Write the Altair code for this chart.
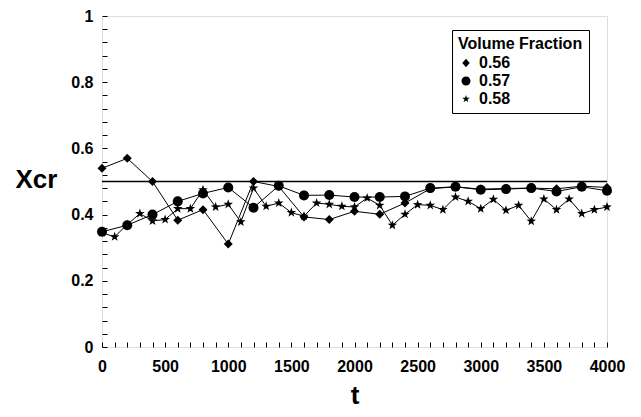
import altair as alt
import pandas as pd

series = ["0.56", "0.57", "0.58"]

t_200 = [0, 200, 400, 600, 800, 1000, 1200, 1400, 1600, 1800, 2000,
         2200, 2400, 2600, 2800, 3000, 3200, 3400, 3600, 3800, 4000]
t_100 = [0, 100, 200, 300, 400, 500, 600, 700, 800, 900, 1000,
         1100, 1200, 1300, 1400, 1500, 1600, 1700, 1800, 1900, 2000,
         2100, 2200, 2300, 2400, 2500, 2600, 2700, 2800, 2900, 3000,
         3100, 3200, 3300, 3400, 3500, 3600, 3700, 3800, 3900, 4000]

x_056 = [0.540, 0.570, 0.500, 0.383, 0.415, 0.311, 0.500, 0.485, 0.393, 0.385, 0.410,
         0.401, 0.435, 0.478, 0.484, 0.477, 0.479, 0.480, 0.478, 0.486, 0.482]
x_057 = [0.348, 0.368, 0.400, 0.440, 0.464, 0.482, 0.421, 0.487, 0.458, 0.459, 0.453,
         0.453, 0.455, 0.480, 0.484, 0.475, 0.477, 0.480, 0.470, 0.484, 0.472]
x_058 = [0.345, 0.333, 0.370, 0.403, 0.381, 0.385, 0.418, 0.418, 0.475, 0.423, 0.431,
         0.378, 0.480, 0.425, 0.435, 0.406, 0.395, 0.435, 0.431, 0.425, 0.423,
         0.450, 0.428, 0.368, 0.401, 0.430, 0.428, 0.415, 0.453, 0.440, 0.418,
         0.446, 0.413, 0.428, 0.380, 0.447, 0.415, 0.447, 0.403, 0.415, 0.423]

x_labels = [0, 500, 1000, 1500, 2000, 2500, 3000, 3500, 4000]
y_labels = [0, 0.2, 0.4, 0.6, 0.8, 1]
x_minor = t_100
y_minor = [0, 0.04, 0.08, 0.12, 0.16, 0.2, 0.24, 0.28, 0.32, 0.36, 0.4, 0.44, 0.48,
           0.52, 0.56, 0.6, 0.64, 0.68, 0.72, 0.76, 0.8, 0.84, 0.88, 0.92, 0.96, 1]
ref_level = [0.5]

rows = []
for tt, v in zip(t_200, x_056):
    rows.append({"t": tt, "v": v, "series": "0.56"})
for tt, v in zip(t_200, x_057):
    rows.append({"t": tt, "v": v, "series": "0.57"})
for tt, v in zip(t_100, x_058):
    rows.append({"t": tt, "v": v, "series": "0.58"})
df = pd.DataFrame(rows)
df["legend_key"] = df["series"]
ref_df = pd.DataFrame({"v": ref_level})

FONT = "Liberation Sans"
xscale = alt.Scale(domain=[0, 4000], nice=False, zero=False)
yscale = alt.Scale(domain=[0, 1], nice=False, zero=False)

diamond = "M0,-0.9L0.9,0L0,0.9L-0.9,0Z"
star = ("M0,-1L0.235,-0.324L0.951,-0.309L0.380,0.124L0.588,0.809L0,0.4"
        "L-0.588,0.809L-0.380,0.124L-0.951,-0.309L-0.235,-0.324Z")
leg_diamond = "M-4,0L4,0M0,-0.85L0.75,0L0,0.85L-0.75,0Z"
leg_circle = "M-4,0L4,0M0.9,0A0.9,0.9,0,1,1,-0.9,0A0.9,0.9,0,1,1,0.9,0Z"
leg_star = ("M-4,0L4,0M0,-0.8L0.19,-0.26L0.76,-0.25L0.30,0.10L0.47,0.65L0,0.32"
            "L-0.47,0.65L-0.30,0.10L-0.76,-0.25L-0.19,-0.26Z")

refline = alt.Chart(ref_df).mark_rule(color="black", strokeWidth=1.5).encode(
    y=alt.Y("v:Q", scale=yscale, axis=None)
)

lines = alt.Chart(df).mark_line(color="black", strokeWidth=1).encode(
    x=alt.X("t:Q", scale=xscale, axis=alt.Axis(
        orient="bottom", values=x_labels, format="d", ticks=False, domain=False, grid=False,
        labelPadding=11, labelFlush=False, labelOverlap=False,
        labelFont=FONT, labelFontSize=16, labelFontWeight="bold", labelColor="black",
        title="t", titleFont=FONT, titleFontSize=26, titleFontWeight="bold", titleColor="black",
        titleBaseline="alphabetic", titleY=56)),
    y=alt.Y("v:Q", scale=yscale, axis=alt.Axis(
        orient="left", values=y_labels, format="~g", ticks=False, domain=False, grid=False,
        labelPadding=9, labelFlush=False, labelOverlap=False,
        labelFont=FONT, labelFontSize=16, labelFontWeight="bold", labelColor="black",
        title="Xcr", titleFont=FONT, titleFontSize=26, titleFontWeight="bold", titleColor="black",
        titleAngle=0, titleAlign="left", titleBaseline="middle", titleX=-87, titleY=163)),
    detail="series:N",
)

legend_layer = alt.Chart(df).mark_point(
    filled=False, opacity=0, fill="black", color="black", stroke="black", strokeWidth=1
).encode(
    x=alt.X("t:Q", scale=xscale, axis=None),
    y=alt.Y("v:Q", scale=yscale, axis=None),
    shape=alt.Shape("legend_key:N",
                    scale=alt.Scale(domain=series, range=[leg_diamond, leg_circle, leg_star]),
                    legend=alt.Legend(
                        title="Volume Fraction", orient="none", legendX=350, legendY=14,
                        direction="vertical",
                        titleFont=FONT, titleFontSize=16, titleFontWeight="bold", titleColor="black",
                        labelFont=FONT, labelFontSize=16, labelFontWeight="bold", labelColor="black",
                        symbolSize=100, symbolOpacity=1, symbolFillColor="black",
                        symbolStrokeColor="black", symbolStrokeWidth=1,
                        symbolOffset=0, labelOffset=5,
                        strokeColor="black", fillColor="white", padding=6, rowPadding=2,
                        titlePadding=3)),
)

points = alt.Chart(df).mark_point(filled=True, size=100, opacity=1, color="black").encode(
    x=alt.X("t:Q", scale=xscale, axis=None),
    y=alt.Y("v:Q", scale=yscale, axis=None),
    shape=alt.Shape("series:N", scale=alt.Scale(domain=series, range=[diamond, "circle", star]),
                    legend=None),
)

ticks = alt.Chart(df).mark_point(opacity=0).encode(
    x=alt.X("t:Q", scale=xscale, axis=alt.Axis(
        orient="bottom", values=x_minor, labels=False, domain=False, grid=False,
        ticks=True, tickSize=5, tickColor="black", tickWidth=1, offset=-5, title=None)),
    y=alt.Y("v:Q", scale=yscale, axis=alt.Axis(
        orient="left", values=y_minor, labels=False, domain=False, grid=False,
        ticks=True, tickSize=5, tickColor="black", tickWidth=1, offset=-5, title=None)),
)

chart = alt.layer(legend_layer, refline, lines, points, ticks).resolve_axis(
    x="independent", y="independent"
).resolve_scale(shape="independent").resolve_legend(shape="independent").properties(
    width=505, height=331,
    autosize=alt.AutoSizeParams(type="none"),
    padding={"left": 94, "top": 8, "right": 22, "bottom": 62},
).configure_view(stroke="black", strokeWidth=1.5).configure(background="white")

chart.save("out.html", embed_options={"renderer": "svg", "actions": False})
